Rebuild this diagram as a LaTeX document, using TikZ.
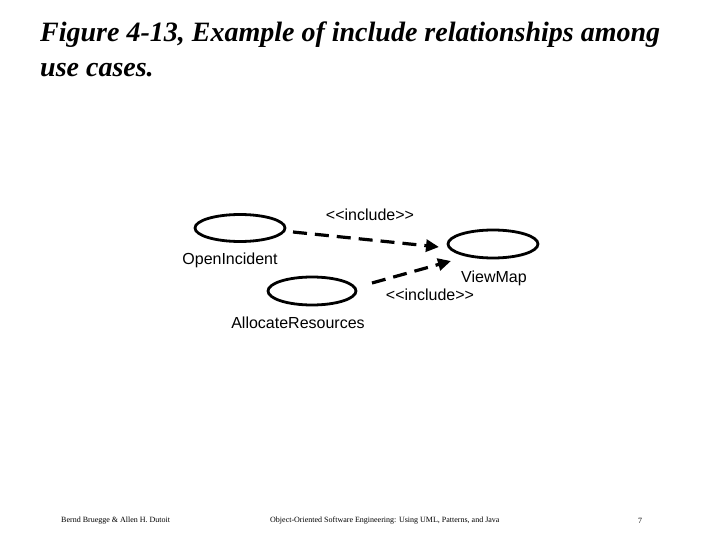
\documentclass[tikz,border=0pt]{standalone}
\usepackage{fontspec}
\setmainfont{Liberation Serif}
\setsansfont{Liberation Sans}
\usetikzlibrary{arrows.meta,shapes.geometric}
\newcommand{\incltext}{<\kern0pt<include>\kern0pt>}
\begin{document}
\begin{tikzpicture}[x=1pt,y=-1pt,
  usecase/.style={draw,line width=2.8pt,ellipse,minimum width=90pt,minimum height=27pt,inner sep=0pt},
  lbl/.style={font=\sffamily\fontsize{16}{16}\selectfont,inner sep=0pt},
  incl/.style={line width=3.2pt,dash pattern=on 14pt off 8pt,-{Triangle[length=13pt,width=12pt]}},
  ttl/.style={anchor=base west,inner sep=0pt,font=\bfseries\itshape\fontsize{28}{28}\selectfont},
  foot/.style={font=\fontsize{8}{8}\selectfont,inner sep=0pt,anchor=west}]
\useasboundingbox (0,0) rectangle (720,540);
\node[ttl] (title1) at (40,42) {Figure 4-13, Example of include relationships among};
\node[ttl] (title2) at (40,77) {use cases.};
\node[usecase] (oi) at (240,228) {};
\node[usecase,minimum height=28pt] (vm) at (493,244) {};
\node[usecase,minimum width=88pt,minimum height=28pt] (ar) at (312,291) {};
\node[lbl] (oil) at (230,260) {OpenIncident};
\node[lbl] (vml) at (494,278) {ViewMap};
\node[lbl] (arl) at (298,323) {AllocateResources};
\node[lbl] (i1) at (370,215) {\incltext};
\node[lbl] (i2) at (430,295) {\incltext};
\coordinate (a1s) at (293,232);
\coordinate (a1e) at (439,247);
\coordinate (a2s) at (372,283);
\coordinate (a2e) at (451,261);
\draw[incl] (a1s) -- (a1e);
\draw[incl] (a2s) -- (a2e);
\node[foot] (f1) at (61,521) {Bernd Bruegge \& Allen H. Dutoit};
\node[foot] (f2) at (270,521) {Object-Oriented Software Engineering: Using UML, Patterns, and Java};
\node[foot] (f3) at (638,521) {7};
\end{tikzpicture}
\end{document}
